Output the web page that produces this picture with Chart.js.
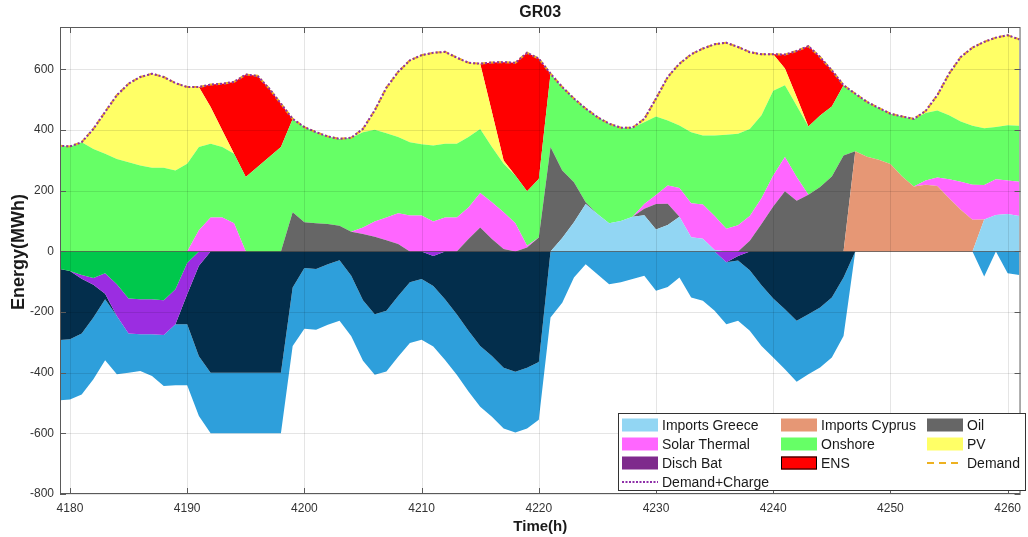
<!DOCTYPE html>
<html>
<head>
<meta charset="utf-8">
<title>GR03</title>
<script src="https://cdn.jsdelivr.net/npm/chart.js@4.4.1/dist/chart.umd.min.js"></script>
<style>
  html, body { margin: 0; padding: 0; background: #fff; }
  #contenedor { width: 1028px; height: 537px; }
</style>
</head>
<body>
<div id="contenedor"><canvas id="grafica" width="1028" height="537"></canvas></div>
<script>
// Valores (MWh) por hora, desde la hora 4179
const horaInicio = 4179;

const demanda = [
  349, 346, 360, 404, 460, 515, 553, 575, 586, 575,
  555, 542, 542, 550, 553, 559, 583, 579, 537, 487,
  437, 410, 393, 379, 371, 375, 404, 465, 540, 592,
  630, 647, 655, 658, 639, 622, 619, 623, 624, 622,
  655, 636, 586, 542, 504, 471, 443, 421, 408, 408,
  437, 504, 575, 619, 650, 669, 683, 688, 674, 657,
  650, 650, 649, 661, 677, 641, 597, 548, 520, 493,
  473, 454, 445, 437, 463, 515, 586, 641, 672, 691,
  705, 713, 699
];

const importsGreece = [
  0, 0, 0, 0, 0, 0, 0, 0, 0, 0,
  0, 0, 0, 0, 0, 0, 0, 0, 0, 0,
  0, 0, 0, 0, 0, 0, 0, 0, 0, 0,
  0, 0, 0, 0, 0, 0, 0, 0, 0, 0,
  0, 0, 0, 44, 96, 156, 123, 93, 100, 114,
  119, 72, 87, 114, 47, 42, 5, 0, 0, 0,
  0, 0, 0, 0, 0, 0, 0, 0, 0, 0,
  0, 0, 0, 0, 0, 0, 0, 0, 0, 105,
  120, 123, 117
];

const importsCyprus = [
  0, 0, 0, 0, 0, 0, 0, 0, 0, 0,
  0, 0, 0, 0, 0, 0, 0, 0, 0, 0,
  0, 0, 0, 0, 0, 0, 0, 0, 0, 0,
  0, 0, 0, 0, 0, 0, 0, 0, 0, 0,
  0, 0, 0, 0, 0, 0, 0, 0, 0, 0,
  0, 0, 0, 0, 0, 0, 0, 0, 0, 0,
  0, 0, 0, 0, 0, 0, 0, 0, 330, 312,
  302, 288, 247, 214, 220, 216, 175, 137, 104, 0,
  0, 0, 0
];

const oil = [
  0, 0, 0, 0, 0, 0, 0, 0, 0, 0,
  0, 0, 0, 0, 0, 0, 0, 0, 0, 0,
  129, 96, 93, 90, 85, 65, 57, 48, 37, 24,
  0, 0, 0, 0, 0, 41, 79, 41, 8, 0,
  13, 46, 344, 223, 132, 6, 0, 0, 0, 0,
  22, 84, 70, 0, 0, 0, 0, 0, 0, 35,
  90, 148, 198, 167, 187, 212, 247, 316, 0, 0,
  0, 0, 0, 0, 0, 0, 0, 0, 0, 0,
  0, 0, 0
];

const solarThermal = [
  0, 0, 0, 0, 0, 0, 0, 0, 0, 0,
  0, 0, 70, 112, 112, 93, 0, 0, 0, 0,
  0, 0, 0, 0, 0, 0, 22, 51, 75, 102,
  118, 118, 99, 112, 112, 104, 114, 121, 121, 93,
  6, 0, 0, 0, 0, 0, 0, 0, 0, 0,
  15, 30, 60, 95, 112, 113, 112, 75, 86, 82,
  85, 102, 113, 78, 0, 0, 0, 0, 0, 0,
  0, 0, 0, 0, 14, 28, 63, 93, 116, 114,
  118, 111, 113
];

const onshore = [
  349, 346, 360, 338, 322, 305, 294, 283, 276, 276,
  267, 289, 274, 243, 232, 229, 245, 278, 311, 344,
  308, 314, 300, 289, 286, 310, 314, 302, 278, 251,
  242, 235, 250, 243, 243, 232, 211, 182, 160, 157,
  179, 193, 242, 275, 276, 309, 320, 328, 308, 294,
  270, 259, 215, 206, 234, 227, 265, 310, 302, 287,
  274, 280, 237, 235, 225, 236, 231, 232, 190, 181,
  171, 166, 198, 223, 222, 221, 211, 198, 194, 187,
  172, 182, 184
];

const pv = [
  0, 0, 0, 66, 138, 210, 259, 292, 310, 299,
  288, 253, 198, 121, 55, 0, 0, 0, 0, 0,
  0, 0, 0, 0, 0, 0, 11, 64, 150, 215,
  270, 294, 306, 303, 284, 245, 215, 116, 11, 0,
  0, 0, 0, 0, 0, 0, 0, 0, 0, 0,
  11, 59, 143, 204, 257, 287, 301, 303, 286, 253,
  201, 120, 55, 29, 0, 0, 0, 0, 0, 0,
  0, 0, 0, 0, 7, 50, 137, 213, 258, 285,
  295, 297, 285
];

const dischBat = [
  0, 0, 0, 0, 0, 0, 0, 0, 0, 0,
  0, 0, 0, 0, 0, 0, 0, 0, 0, 0,
  0, 0, 0, 0, 0, 0, 0, 0, 0, 0,
  0, 0, 0, 0, 0, 0, 0, 0, 0, 0,
  0, 0, 0, 0, 0, 0, 0, 0, 0, 0,
  0, 0, 0, 0, 0, 0, 0, 0, 0, 0,
  0, 0, 0, 0, 0, 0, 0, 0, 0, 0,
  0, 0, 0, 0, 0, 0, 0, 0, 0, 0,
  0, 0, 0
];

const ens = [
  0, 0, 0, 0, 0, 0, 0, 0, 0, 0,
  0, 0, 0, 74, 154, 237, 338, 301, 226, 143,
  0, 0, 0, 0, 0, 0, 0, 0, 0, 0,
  0, 0, 0, 0, 0, 0, 0, 163, 324, 372,
  457, 397, 0, 0, 0, 0, 0, 0, 0, 0,
  0, 0, 0, 0, 0, 0, 0, 0, 0, 0,
  0, 0, 46, 152, 265, 193, 119, 0, 0, 0,
  0, 0, 0, 0, 0, 0, 0, 0, 0, 0,
  0, 0, 0
];

// Parte negativa (consumos / exportaciones), de 0 hacia abajo
const negVerde = [
  -57, -65, -78, -88, -72, -108, -155, -158, -158, -161,
  -125, -38, 0, 0, 0, 0, 0, 0, 0, 0,
  0, 0, 0, 0, 0, 0, 0, 0, 0, 0,
  0, 0, 0, 0, 0, 0, 0, 0, 0, 0,
  0, 0, 0, 0, 0, 0, 0, 0, 0, 0,
  0, 0, 0, 0, 0, 0, 0, 0, 0, 0,
  0, 0, 0, 0, 0, 0, 0, 0, 0, 0,
  0, 0, 0, 0, 0, 0, 0, 0, 0, 0,
  0, 0, 0
];

const negMorado = [
  0, 0, -12, -22, -68, -105, -116, -115, -115, -115,
  -115, -103, -47, 0, 0, 0, 0, 0, 0, 0,
  0, 0, 0, 0, 0, 0, 0, 0, 0, 0,
  0, 0, -15, 0, 0, 0, 0, 0, 0, 0,
  0, 0, 0, 0, 0, 0, 0, 0, 0, 0,
  0, 0, 0, 0, 0, 0, 0, -36, -15, 0,
  0, 0, 0, 0, 0, 0, 0, 0, 0, 0,
  0, 0, 0, 0, 0, 0, 0, 0, 0, 0,
  0, 0, 0
];

const negMarino = [
  -236, -225, -181, -108, -18, 0, 0, 0, 0, 0,
  0, -99, -299, -400, -400, -400, -400, -400, -400, -400,
  -119, -55, -58, -42, -29, -80, -161, -207, -196, -147,
  -102, -91, -99, -158, -207, -262, -312, -345, -384, -397,
  -384, -365, 0, 0, 0, 0, 0, 0, 0, 0,
  0, 0, 0, 0, 0, 0, 0, 0, -15, -62,
  -112, -155, -191, -229, -207, -185, -152, -86, 0, 0,
  0, 0, 0, 0, 0, 0, 0, 0, 0, 0,
  0, 0, 0
];

const negAzul = [
  -198, -198, -201, -204, -201, -192, -129, -121, -138, -168,
  -201, -201, -197, -200, -200, -200, -200, -200, -200, -200,
  -193, -200, -200, -200, -200, -200, -200, -200, -200, -200,
  -200, -200, -200, -200, -200, -200, -200, -200, -200, -200,
  -200, -190, -218, -169, -86, -42, -75, -108, -102, -91,
  -80, -130, -117, -86, -152, -163, -196, -204, -199, -200,
  -200, -195, -198, -201, -198, -198, -198, -193, 0, 0,
  0, 0, 0, 0, 0, 0, 0, 0, 0, -83,
  0, -72, -78
];

const ticksX = [4180, 4190, 4200, 4210, 4220, 4230, 4240, 4250, 4260];
const ticksY = [-800, -600, -400, -200, 0, 200, 400, 600];

const colores = {
  greece: '#92D6F3',
  cyprus: '#E69775',
  oil: '#666666',
  solar: '#FF66FF',
  onshore: '#66FF66',
  pv: '#FFFF66',
  bat: '#7E2A8C',
  ens: '#FF0000',
  demanda: '#EDB120',
  carga: '#8E2FA8',
  negVerde: '#00C84C',
  negMorado: '#9B2DE1',
  negMarino: '#032E4C',
  negAzul: '#2E9FDB'
};

const fuente = '"Liberation Sans", Arial, Helvetica, sans-serif';
const horas = demanda.map((_, i) => horaInicio + i);

function serie(valores) {
  return valores.map((v, i) => ({ x: horas[i], y: v }));
}

// Capa de área apilada
function capa(etiqueta, valores, color, pila, relleno) {
  return {
    label: etiqueta,
    data: serie(valores),
    stack: pila,
    fill: relleno,
    backgroundColor: color,
    borderColor: 'rgba(0,0,0,0)',
    borderWidth: 0,
    pointRadius: 0,
    pointHoverRadius: 0,
    tension: 0
  };
}

// Líneas de demanda (no se apilan con las áreas)
function linea(etiqueta, valores, color, guion, pila) {
  return {
    label: etiqueta,
    data: serie(valores),
    stack: pila,
    fill: false,
    borderColor: color,
    borderWidth: 2,
    borderDash: guion,
    pointRadius: 0,
    pointHoverRadius: 0,
    tension: 0
  };
}

// Rejilla, marco y marcas de los ejes al estilo MATLAB (sobre las áreas)
const ejesMatlab = {
  id: 'ejesMatlab',
  afterDatasetsDraw(chart) {
    const { ctx, chartArea: a, scales: { x, y } } = chart;
    ctx.save();
    ctx.lineWidth = 1;
    ctx.strokeStyle = 'rgba(0,0,0,0.10)';
    ctx.beginPath();
    ticksX.forEach(t => {
      const px = Math.round(x.getPixelForValue(t)) + 0.5;
      ctx.moveTo(px, a.top); ctx.lineTo(px, a.bottom);
    });
    ticksY.forEach(t => {
      const py = Math.round(y.getPixelForValue(t)) + 0.5;
      ctx.moveTo(a.left, py); ctx.lineTo(a.right, py);
    });
    ctx.stroke();

    // línea base en cero
    const y0 = Math.round(y.getPixelForValue(0)) + 0.5;
    ctx.strokeStyle = 'rgba(40,40,40,0.55)';
    ctx.beginPath();
    ctx.moveTo(a.left, y0); ctx.lineTo(a.right, y0);
    ctx.stroke();

    // marco y marcas hacia dentro
    ctx.strokeStyle = '#5a5a5a';
    ctx.strokeRect(a.left + 0.5, a.top + 0.5, a.right - a.left - 1, a.bottom - a.top - 1);
    ctx.beginPath();
    ticksX.forEach(t => {
      const px = Math.round(x.getPixelForValue(t)) + 0.5;
      ctx.moveTo(px, a.bottom); ctx.lineTo(px, a.bottom - 6);
      ctx.moveTo(px, a.top); ctx.lineTo(px, a.top + 6);
    });
    ticksY.forEach(t => {
      const py = Math.round(y.getPixelForValue(t)) + 0.5;
      ctx.moveTo(a.left, py); ctx.lineTo(a.left + 6, py);
      ctx.moveTo(a.right, py); ctx.lineTo(a.right - 6, py);
    });
    ctx.stroke();
    ctx.restore();
  }
};

// Leyenda dentro del área, 3 columnas
const entradasLeyenda = [
  { texto: 'Imports Greece', color: colores.greece, tipo: 'area' },
  { texto: 'Imports Cyprus', color: colores.cyprus, tipo: 'area' },
  { texto: 'Oil', color: colores.oil, tipo: 'area' },
  { texto: 'Solar Thermal', color: colores.solar, tipo: 'area' },
  { texto: 'Onshore', color: colores.onshore, tipo: 'area' },
  { texto: 'PV', color: colores.pv, tipo: 'area' },
  { texto: 'Disch Bat', color: colores.bat, tipo: 'area' },
  { texto: 'ENS', color: colores.ens, tipo: 'area', borde: '#000' },
  { texto: 'Demand', color: colores.demanda, tipo: 'guion' },
  { texto: 'Demand+Charge', color: colores.carga, tipo: 'punto' }
];

const textosMatlab = {
  id: 'textosMatlab',
  afterDraw(chart) {
    const { ctx, chartArea: a } = chart;
    ctx.save();
    ctx.fillStyle = '#1a1a1a';
    ctx.textAlign = 'center';
    ctx.textBaseline = 'middle';
    ctx.font = 'bold 16px ' + fuente;
    ctx.fillText('GR03', (a.left + a.right) / 2, 13);
    ctx.font = 'bold 15px ' + fuente;
    ctx.fillText('Time(h)', (a.left + a.right) / 2, 527);
    ctx.save();
    ctx.translate(19, 252);
    ctx.rotate(-Math.PI / 2);
    ctx.font = 'bold 18px ' + fuente;
    ctx.fillText('Energy(MWh)', 0, 0);
    ctx.restore();

    // caja de la leyenda
    ctx.fillStyle = '#ffffff';
    ctx.fillRect(618, 413, 408, 78);
    ctx.strokeStyle = '#333';
    ctx.lineWidth = 1;
    ctx.strokeRect(618.5, 413.5, 407, 77);

    const columnas = [622, 781, 927];
    const filas = [425, 444, 463, 482];
    ctx.font = '14px ' + fuente;
    ctx.textAlign = 'left';
    entradasLeyenda.forEach((e, i) => {
      const cx = columnas[i % 3];
      const cy = filas[Math.floor(i / 3)];
      if (e.tipo === 'area') {
        ctx.fillStyle = e.color;
        ctx.fillRect(cx, cy - 6.5, 36, 13);
        if (e.borde) {
          ctx.strokeStyle = e.borde;
          ctx.strokeRect(cx + 0.5, cy - 6, 35, 12);
        }
      } else {
        ctx.strokeStyle = e.color;
        ctx.lineWidth = 2;
        ctx.setLineDash(e.tipo === 'guion' ? [7, 5] : [2, 1.5]);
        ctx.beginPath();
        ctx.moveTo(cx, cy); ctx.lineTo(cx + 36, cy);
        ctx.stroke();
        ctx.setLineDash([]);
        ctx.lineWidth = 1;
      }
      ctx.fillStyle = '#1a1a1a';
      ctx.fillText(e.texto, cx + 40, cy + 1);
    });
    ctx.restore();
  }
};

// Crear la gráfica
const ctx = document.getElementById('grafica').getContext('2d');
const grafica = new Chart(ctx, {
  type: 'line',
  data: {
    datasets: [
      linea('Demand+Charge', demanda, colores.carga, [2, 2], 'd2'),
      linea('Demand', demanda, colores.demanda, [5, 3], 'd1'),
      capa('Imports Greece', importsGreece, colores.greece, 'pos', 'origin'),
      capa('Imports Cyprus', importsCyprus, colores.cyprus, 'pos', '-1'),
      capa('Oil', oil, colores.oil, 'pos', '-1'),
      capa('Solar Thermal', solarThermal, colores.solar, 'pos', '-1'),
      capa('Onshore', onshore, colores.onshore, 'pos', '-1'),
      capa('PV', pv, colores.pv, 'pos', '-1'),
      capa('Disch Bat', dischBat, colores.bat, 'pos', '-1'),
      capa('ENS', ens, colores.ens, 'pos', '-1'),
      capa('neg1', negVerde, colores.negVerde, 'neg', 'origin'),
      capa('neg2', negMorado, colores.negMorado, 'neg', '-1'),
      capa('neg3', negMarino, colores.negMarino, 'neg', '-1'),
      capa('neg4', negAzul, colores.negAzul, 'neg', '-1')
    ]
  },
  options: {
    responsive: false,
    animation: false,
    devicePixelRatio: 1,
    layout: { padding: { top: 27, right: 1, left: 0, bottom: 0 } },
    plugins: {
      legend: { display: false },
      tooltip: { enabled: false },
      title: { display: false }
    },
    events: [],
    scales: {
      x: {
        type: 'linear',
        min: 4179.15,
        max: 4261.1,
        afterBuildTicks: s => { s.ticks = ticksX.map(v => ({ value: v })); },
        afterFit: s => { s.height = 43; },
        grid: { display: false, drawTicks: false },
        border: { display: false },
        ticks: {
          callback: v => String(v),
          color: '#333',
          font: { family: fuente, size: 12 },
          padding: 7,
          maxRotation: 0,
          autoSkip: false
        }
      },
      y: {
        stacked: true,
        min: -800,
        max: 740,
        afterBuildTicks: s => { s.ticks = ticksY.map(v => ({ value: v })); },
        afterFit: s => { s.width = 60; },
        grid: { display: false, drawTicks: false },
        border: { display: false },
        ticks: {
          callback: v => String(v),
          color: '#333',
          font: { family: fuente, size: 12 },
          padding: 6,
          autoSkip: false
        }
      }
    }
  },
  plugins: [ejesMatlab, textosMatlab]
});
</script>
</body>
</html>
